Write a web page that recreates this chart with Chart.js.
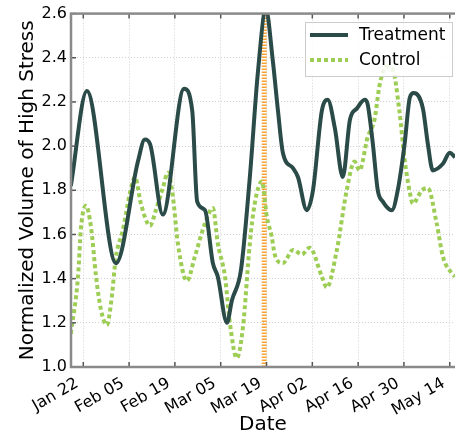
<!DOCTYPE html>
<html>
<head>
<meta charset="utf-8">
<script src="https://cdn.jsdelivr.net/npm/chart.js@4.4.0/dist/chart.umd.min.js"></script>
<style>
  body { margin: 0; background: #fff; }
</style>
</head>
<body>
<canvas id="myChart" width="455" height="439"></canvas>
<script>
// days are counted from Jan 22
const tickDays = [0, 14, 28, 42, 56, 70, 84, 98, 112]
const tickLabels = ['Jan 22', 'Feb 05', 'Feb 19', 'Mar 05', 'Mar 19', 'Apr 02', 'Apr 16', 'Apr 30', 'May 14']

const treatDays = [-3.8, 1.1, 10.0, 16.7, 18.8, 20.4, 24.3, 30.8, 33.3, 34.8, 37.2, 39.6, 41.1, 43.9, 45.4, 48.2, 50.9, 53.4, 55.8, 57.9, 59.5, 61.0, 64.1, 65.6, 68.3, 70.2, 72.9, 74.7, 76.9, 79.3, 81.5, 83.6, 86.0, 86.9, 88.5, 90.0, 91.5, 94.3, 96.1, 98.2, 99.8, 101.0, 103.8, 105.3, 106.8, 109.9, 112.0, 113.6]
const treatVals = [1.82, 2.25, 1.47, 1.93, 2.03, 2.01, 1.69, 2.26, 2.16, 1.75, 1.71, 1.47, 1.41, 1.20, 1.30, 1.44, 1.86, 2.34, 2.62, 2.39, 2.16, 1.97, 1.90, 1.86, 1.71, 1.80, 2.16, 2.21, 2.08, 1.86, 2.12, 2.17, 2.21, 2.19, 2.01, 1.80, 1.75, 1.71, 1.80, 2.01, 2.22, 2.24, 2.17, 2.01, 1.89, 1.92, 1.97, 1.95]

const ctrlDays = [-3.8, -1.6, -0.7, 0.8, 2.4, 3.9, 5.4, 7.2, 8.5, 10.0, 12.1, 14.3, 15.8, 17.6, 20.4, 22.2, 24.3, 25.9, 27.4, 28.9, 31.7, 34.1, 37.2, 39.6, 41.1, 43.3, 44.8, 46.9, 48.8, 50.9, 52.4, 54.6, 56.1, 57.6, 58.5, 61.0, 64.1, 66.8, 69.2, 72.9, 74.4, 77.5, 80.5, 82.9, 84.4, 86.9, 89.0, 90.6, 92.7, 94.5, 96.6, 98.2, 99.8, 100.7, 103.5, 105.3, 108.0, 109.9, 112.9, 113.6]
const ctrlVals = [1.15, 1.41, 1.63, 1.73, 1.63, 1.41, 1.26, 1.19, 1.29, 1.50, 1.62, 1.79, 1.86, 1.74, 1.64, 1.71, 1.81, 1.88, 1.77, 1.56, 1.39, 1.50, 1.65, 1.72, 1.56, 1.41, 1.20, 1.04, 1.18, 1.56, 1.74, 1.84, 1.68, 1.59, 1.51, 1.47, 1.53, 1.51, 1.54, 1.41, 1.36, 1.53, 1.80, 1.93, 1.89, 2.04, 2.12, 2.28, 2.36, 2.35, 2.16, 1.94, 1.79, 1.74, 1.80, 1.81, 1.65, 1.50, 1.42, 1.41]

const markerDay = 55.3
const yMin = 1.0
const yMax = 2.6

const FONT = 'DejaVu Sans'

function pts(days, vals) {
  return days.map((d, i) => ({ x: d, y: vals[i] }))
}

// frame, inward tick marks and the legend box
const extras = {
  id: 'extras',
  afterDraw(chart) {
    const c = chart.ctx
    const a = chart.chartArea
    const xs = chart.scales.x
    const ys = chart.scales.y
    c.save()
    c.strokeStyle = '#555'
    c.lineWidth = 1.5
    tickDays.forEach(d => {
      const px = xs.getPixelForValue(d)
      c.beginPath()
      c.moveTo(px, a.bottom); c.lineTo(px, a.bottom - 5)
      c.moveTo(px, a.top); c.lineTo(px, a.top + 5)
      c.stroke()
    })
    for (let v = yMin; v <= yMax + 0.001; v += 0.2) {
      const py = ys.getPixelForValue(v)
      c.beginPath()
      c.moveTo(a.left, py); c.lineTo(a.left + 5, py)
      c.stroke()
    }
    c.strokeStyle = '#8a8a8a'
    c.lineWidth = 2.5
    c.strokeRect(a.left, a.top, a.right - a.left + 10, a.bottom - a.top)

    // legend
    c.fillStyle = 'rgba(255,255,255,0.85)'
    c.fillRect(305, 22, 147, 54)
    c.strokeStyle = '#cccccc'
    c.lineWidth = 1
    c.strokeRect(305.5, 22.5, 147, 54)
    const items = chart.data.datasets.filter(ds => ds.label)
    items.forEach((ds, i) => {
      const y = 35 + i * 25
      c.beginPath()
      c.strokeStyle = ds.borderColor
      c.lineWidth = ds.borderWidth
      c.setLineDash(ds.borderDash || [])
      c.moveTo(310, y); c.lineTo(348, y)
      c.stroke()
      c.setLineDash([])
      c.fillStyle = '#000'
      c.font = '17px "' + FONT + '"'
      c.textBaseline = 'middle'
      c.fillText(ds.label, 359, y + 1)
    })
    c.restore()
  }
}

const ctx = document.getElementById('myChart')
new Chart(ctx, {
  type: 'line',
  data: {
    datasets: [{
      label: 'Treatment',
      data: pts(treatDays, treatVals),
      borderColor: '#2b4b49',
      borderWidth: 4,
      pointRadius: 0,
      tension: 0.4,
      cubicInterpolationMode: 'monotone',
      order: 0
    }, {
      label: 'Control',
      data: pts(ctrlDays, ctrlVals),
      borderColor: '#9dcd55',
      borderWidth: 4,
      borderDash: [4, 3],
      borderCapStyle: 'butt',
      pointRadius: 0,
      tension: 0.4,
      cubicInterpolationMode: 'monotone',
      order: 1
    }, {
      label: '',
      data: [{ x: markerDay, y: yMin }, { x: markerDay, y: yMax }],
      borderColor: '#f7a334',
      borderWidth: 5,
      borderDash: [1.5, 1.5],
      pointRadius: 0,
      order: 2
    }]
  },
  options: {
    responsive: false,
    animation: false,
    layout: { padding: { top: 13, right: 0, left: 0, bottom: 0 } },
    plugins: {
      legend: { display: false },
      tooltip: { enabled: false }
    },
    scales: {
      x: {
        type: 'linear',
        min: -3.75,
        max: 113.6,
        afterBuildTicks: s => { s.ticks = tickDays.map(v => ({ value: v })) },
        afterFit: s => { s.height = 72; s.paddingRight = 0 },
        grid: { color: '#d0d0d0', drawTicks: false, lineWidth: 1 },
        border: { display: false, dash: [1, 2] },
        ticks: {
          autoSkip: false,
          maxRotation: 30,
          minRotation: 30,
          padding: 7,
          labelOffset: -6,
          color: '#000',
          font: { family: FONT, size: 16 },
          callback: v => tickLabels[tickDays.indexOf(v)]
        },
        title: {
          display: true,
          text: 'Date',
          color: '#000',
          font: { family: FONT, size: 20 },
          padding: { top: 0, bottom: 2 }
        }
      },
      y: {
        min: yMin,
        max: yMax,
        afterFit: s => { s.width = 71 },
        grid: { color: '#d0d0d0', drawTicks: false, lineWidth: 1 },
        border: { display: false, dash: [1, 2] },
        ticks: {
          stepSize: 0.2,
          padding: 4,
          color: '#000',
          font: { family: FONT, size: 16 },
          callback: v => v.toFixed(1)
        },
        title: {
          display: true,
          text: 'Normalized Volume of High Stress',
          color: '#000',
          font: { family: FONT, size: 20 },
          padding: { top: 16, bottom: 0 }
        }
      }
    }
  },
  plugins: [extras]
})
</script>
</body>
</html>
